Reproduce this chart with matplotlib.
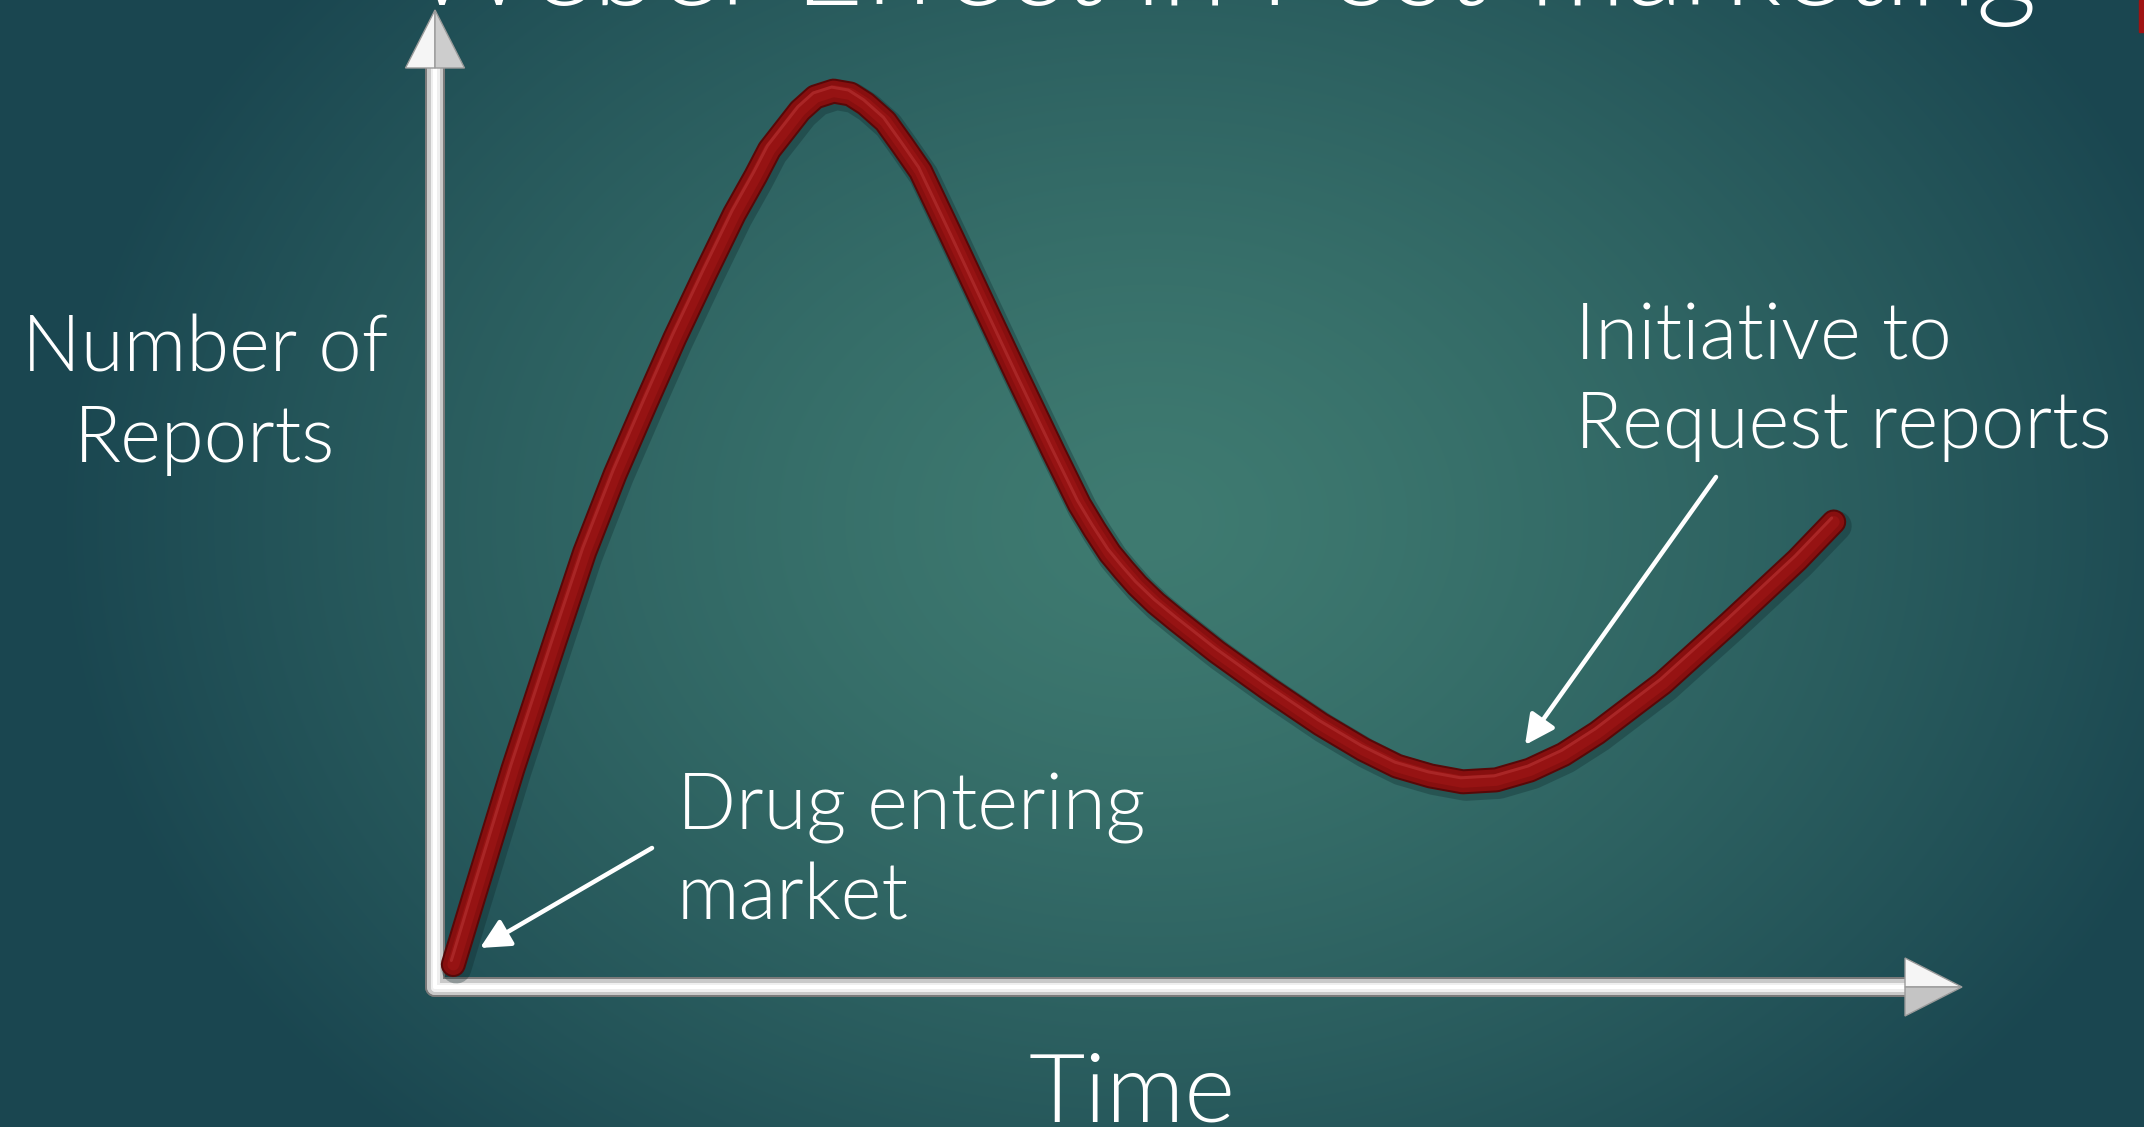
# 00 Initialization
import numpy as np
import matplotlib
matplotlib.use('Agg')
import matplotlib.pyplot as plt
import matplotlib.transforms as mtransforms
from matplotlib import font_manager
from matplotlib.patches import Polygon, Rectangle

# 01 Data
Title = 'Weber Effect in Post-marketing'
YLabelLines = ['Number of', 'Reports']
XLabel = 'Time'
StartLines = ['Drug entering', 'market']
RequestLines = ['Initiative to', 'Request reports']

Time = [0.12, 0.25, 0.51, 0.79, 0.98, 1.18, 1.38, 1.57, 1.77, 1.96,
        2.10, 2.19, 2.31, 2.39, 2.49, 2.61, 2.72, 2.82, 2.95, 3.06,
        3.18, 3.39, 3.60, 3.82, 4.05, 4.22, 4.32, 4.42, 4.51, 4.60,
        4.72, 4.86, 5.12, 5.45, 5.80, 6.08, 6.30, 6.52, 6.73, 6.95,
        7.17, 7.39, 7.61, 8.04, 8.48, 8.92, 9.16]
Reports = [0.23, 0.90, 2.23, 3.56, 4.45, 5.25, 5.97, 6.64, 7.30, 7.91,
           8.30, 8.57, 8.81, 8.97, 9.11, 9.17, 9.14, 9.04, 8.86, 8.62,
           8.35, 7.66, 6.96, 6.23, 5.48, 4.94, 4.68, 4.44, 4.27, 4.11,
           3.93, 3.75, 3.43, 3.06, 2.69, 2.43, 2.26, 2.16, 2.10, 2.12,
           2.22, 2.38, 2.60, 3.11, 3.73, 4.37, 4.76]

# 02 Layout helpers
W, H = 2144, 1127
PT = 72 / 100   # points per pixel at dpi 100


def FigXY(x, y):
    return x / W, 1 - y / H


def FindFont(Families, Weights):
    for Weight in Weights:
        for Family in Families:
            for Entry in font_manager.fontManager.ttflist:
                w = Entry.weight
                if isinstance(w, str):
                    w = font_manager.weight_dict.get(w, 400)
                if Entry.name == Family and int(w) == Weight and Entry.style == 'normal':
                    return Entry.fname
    return None


FontFile = FindFont(['Lato', 'Open Sans', 'Roboto', 'Noto Sans'], [300, 200])


def Prop(Size):
    if FontFile:
        return font_manager.FontProperties(fname=FontFile, size=Size)
    return font_manager.FontProperties(family='DejaVu Sans', size=Size)


Figure = plt.figure(figsize=(W / 100, H / 100), dpi=100)
Renderer = Figure.canvas.get_renderer()


def FitSize(Text, TargetWidth, MaxSize):
    t = Figure.text(0, 0, Text, fontproperties=Prop(100))
    Width = t.get_window_extent(Renderer).width
    t.remove()
    return min(100 * TargetWidth / Width, MaxSize)


def DrawLines(Lines, Size, Ha):
    for Text, X, Y in Lines:
        fx, fy = FigXY(X, Y)
        Figure.text(fx, fy, Text, fontproperties=Prop(Size), color='white',
                    ha=Ha, va='baseline', zorder=5)


# 03 Background
Bg = Figure.add_axes([0, 0, 1, 1], zorder=0)
Y, X = np.mgrid[0:H, 0:W]
D = np.sqrt(((X - 1150) / 1100.0) ** 2 + ((Y - 520) / 850.0) ** 2)
F = np.clip(D, 0, 1) ** 1.3
Center = np.array([63, 123, 113]) / 255
Edge = np.array([26, 70, 80]) / 255
Img = Center[None, None, :] * (1 - F[..., None]) + Edge[None, None, :] * F[..., None]
Bg.imshow(Img, extent=[0, W, H, 0], aspect='auto', interpolation='bilinear')
Bg.set_xlim(0, W)
Bg.set_ylim(H, 0)
Bg.axis('off')
Bg.add_patch(Rectangle((2139, 0), 5, 32, color='#a01212'))

# 04 Chart axes
Left, Right, Top, Bottom = 435, 1962, 10, 987
Axes = Figure.add_axes([Left / W, 1 - Bottom / H, (Right - Left) / W, (Bottom - Top) / H], zorder=2)
Axes.set_xlim(0, 10)
Axes.set_ylim(0, 10)
Axes.axis('off')
Axes.patch.set_alpha(0)

XHead = (1905 - Left) / (Right - Left)
YHead = (Bottom - 68) / (Bottom - Top)
HalfX = 29.5 / (Right - Left)
HalfY = 29 / (Bottom - Top)

# silver shafts
for Color, Lw in [('#7a7a7a', 20), ('#c9c9c9', 16), ('#efefef', 9), ('#ffffff', 4)]:
    Axes.plot([0, 0], [0, YHead], color=Color, lw=Lw * PT, solid_capstyle='round',
              transform=Axes.transAxes, clip_on=False, zorder=3)
    Axes.plot([0, XHead], [0, 0], color=Color, lw=Lw * PT, solid_capstyle='round',
              transform=Axes.transAxes, clip_on=False, zorder=3)

# arrow heads
Axes.add_patch(Polygon([(-HalfX, YHead), (0, 1), (0, YHead)], closed=True, facecolor='#f5f5f5',
                       edgecolor='#9a9a9a', lw=1, transform=Axes.transAxes, clip_on=False, zorder=4))
Axes.add_patch(Polygon([(0, YHead), (0, 1), (HalfX, YHead)], closed=True, facecolor='#cdcdcd',
                       edgecolor='#9a9a9a', lw=1, transform=Axes.transAxes, clip_on=False, zorder=4))
Axes.add_patch(Polygon([(XHead, HalfY), (1, 0), (XHead, 0)], closed=True, facecolor='#f5f5f5',
                       edgecolor='#9a9a9a', lw=1, transform=Axes.transAxes, clip_on=False, zorder=4))
Axes.add_patch(Polygon([(XHead, 0), (1, 0), (XHead, -HalfY)], closed=True, facecolor='#c4c4c4',
                       edgecolor='#9a9a9a', lw=1, transform=Axes.transAxes, clip_on=False, zorder=4))

# red tube curve
Shadow = mtransforms.offset_copy(Axes.transData, fig=Figure, x=3, y=-4, units='dots')
Axes.plot(Time, Reports, color='#0c2427', alpha=0.3, lw=30 * PT, solid_capstyle='round',
          solid_joinstyle='round', transform=Shadow, clip_on=False, zorder=5)
for Color, Lw in [('#570808', 25), ('#870f0f', 21), ('#961313', 12)]:
    Axes.plot(Time, Reports, color=Color, lw=Lw * PT, solid_capstyle='round',
              solid_joinstyle='round', clip_on=False, zorder=6)
Shine = mtransforms.offset_copy(Axes.transData, fig=Figure, x=-2, y=4, units='dots')
Axes.plot(Time, Reports, color='#cf4a4a', alpha=0.35, lw=3 * PT, solid_capstyle='round',
          solid_joinstyle='round', transform=Shine, clip_on=False, zorder=7)

# 05 Texts
TitleSize = FitSize(Title, 1627, 90)
DrawLines([(Title, 410, 5)], TitleSize, 'left')

LabelSize = FitSize('Request reports', 558, 56)
DrawLines([(YLabelLines[0], 205, 371), (YLabelLines[1], 205, 462)], LabelSize, 'center')
DrawLines([(StartLines[0], 677, 830), (StartLines[1], 677, 920)], LabelSize, 'left')
DrawLines([(RequestLines[0], 1575, 360), (RequestLines[1], 1575, 448)], LabelSize, 'left')

TimeSize = FitSize(XLabel, 207, 75)
DrawLines([(XLabel, 1132, 1122)], TimeSize, 'center')

# white pointer arrows
Arrow = dict(arrowstyle='-|>,head_length=0.9,head_width=0.45', color='white',
             lw=4.5 * PT, shrinkA=0, shrinkB=0, mutation_scale=20)
Axes.annotate('', xy=FigXY(480, 948), xytext=FigXY(652, 848), xycoords='figure fraction',
              textcoords='figure fraction', arrowprops=Arrow, zorder=8)
Axes.annotate('', xy=FigXY(1525, 745), xytext=FigXY(1716, 477), xycoords='figure fraction',
              textcoords='figure fraction', arrowprops=Arrow, zorder=8)

plt.savefig('out.png', dpi=100)
plt.close(Figure)
